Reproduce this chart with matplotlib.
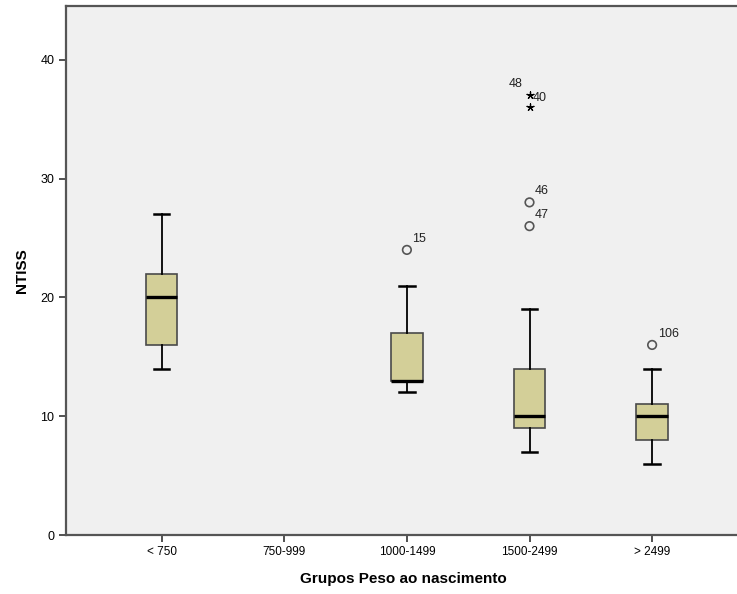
import matplotlib
matplotlib.use("Agg")
import matplotlib.pyplot as plt

plt.rcParams['font.family'] = ['Liberation Sans', 'DejaVu Sans']

categories = ["< 750", "750-999", "1000-1499", "1500-2499", "> 2499"]
# groups that have data (750-999 is empty)
box_pos = [1, 3, 4, 5]
whislo = [14, 12, 7, 6]
q1 = [16, 13, 9, 8]
med = [20, 13, 10, 10]
q3 = [22, 17, 14, 11]
whishi = [27, 21, 19, 14]

# outliers (circles) and extremes (stars) with case labels
out_pos = [3, 4, 4, 5]
out_val = [24, 28, 26, 16]
out_lab = ["15", "46", "47", "106"]
ext_pos = [4, 4]
ext_val = [37, 36]

fig = plt.figure(figsize=(7.37, 5.94), dpi=100)
fig.patch.set_facecolor("white")
ax = fig.add_axes([0.0896, 0.0993, 0.915, 0.89])
ax.set_facecolor("#f0f0f0")

stats = []
for i in range(len(box_pos)):
    stats.append(dict(med=med[i], q1=q1[i], q3=q3[i], whislo=whislo[i],
                      whishi=whishi[i], fliers=[]))

ax.bxp(stats, positions=box_pos, widths=0.255, patch_artist=True,
       showfliers=False,
       boxprops=dict(facecolor="#d3cf98", edgecolor="#4a4a4a", linewidth=1.2),
       medianprops=dict(color="black", linewidth=2.4),
       whiskerprops=dict(color="black", linewidth=1.3),
       capprops=dict(color="black", linewidth=1.8),
       capwidths=0.125)

ax.scatter(out_pos, out_val, s=38, facecolors="none", edgecolors="#555555",
           linewidths=1.2, zorder=5)
ax.scatter(ext_pos, ext_val, s=26, marker=(5, 2, 0), color="black",
           linewidths=0.9, zorder=5)

for p, v, t in zip(out_pos, out_val, out_lab):
    ax.annotate(t, (p, v), xytext=(4, 6), textcoords="offset points",
                fontsize=9, color="#222222")
ax.annotate("48", (4, 37), xytext=(-15, 6), textcoords="offset points",
            fontsize=9, color="#222222")
ax.annotate("40", (4, 37), xytext=(2.5, -4), textcoords="offset points",
            fontsize=9, color="#222222")

ax.set_xlim(0.22, 5.72)
ax.set_ylim(0, 44.5)
ax.set_yticks([0, 10, 20, 30, 40])
ax.set_xticks(range(1, 6))
ax.set_xticklabels(categories, fontsize=8.5)
ax.tick_params(axis="y", labelsize=9, length=5, width=1.2, color="#333333")
ax.tick_params(axis="x", length=5, width=1.2, color="#333333", pad=3)

for s in ["left", "bottom", "top"]:
    ax.spines[s].set_color("#555555")
    ax.spines[s].set_linewidth(1.6)
ax.spines["right"].set_visible(False)

ax.set_xlabel("Grupos Peso ao nascimento", fontsize=11, fontweight="bold",
              labelpad=10)
ax.set_ylabel("NTISS", fontsize=11, fontweight="bold", labelpad=8)

fig.savefig("out.png", dpi=100)
